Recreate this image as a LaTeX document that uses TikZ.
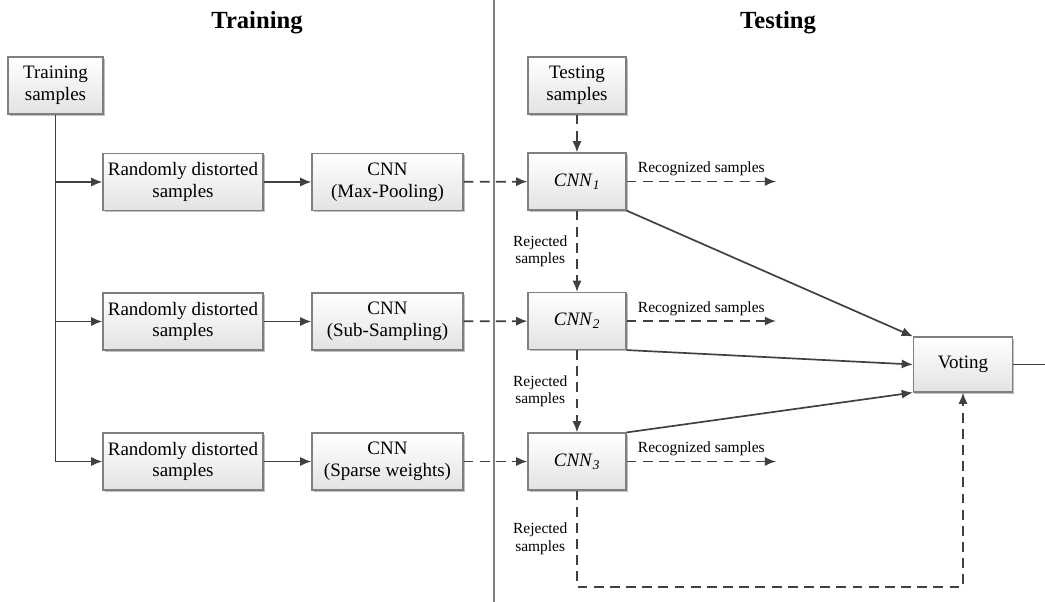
\documentclass[tikz,border=0pt]{standalone}
\usepackage{fontspec}
\setmainfont{Liberation Serif}
\usepackage{xcolor}
\usetikzlibrary{positioning, shadows, arrows.meta}
\definecolor{linegray}{HTML}{404040}
\definecolor{boxgray}{HTML}{7F7F7F}

\begin{document}
\begin{tikzpicture}[x=0.025cm, y=-0.025cm, font=\fontsize{13.5}{15.5}\selectfont]

		% Setup the styles for the boxes and the arrows
		\tikzset{box style/.style={draw=boxgray,
				line width=0.8pt,
				top color=white,
				bottom color=gray!22,
				minimum height=1.425cm,
				inner sep=2pt,
				align=center,
				drop shadow={shadow xshift=1.3pt, shadow yshift=-1.3pt, fill=black, opacity=0.25}},
			flow/.style={draw=linegray, line width=1.2pt, -{Latex[length=8pt, width=6.5pt]}},
			dash flow/.style={flow, dash pattern=on 7pt off 4.5pt},
			small label/.style={font=\fontsize{11}{12.5}\selectfont, align=center}}

		\useasboundingbox (0, 0) rectangle (1045, 602);

		% Draw the titles and the divider
		\node[font=\fontsize{17.5}{20}\selectfont\bfseries] at (257, 23) (traintitle) {Training};
		\node[font=\fontsize{17.5}{20}\selectfont\bfseries] at (778, 23) (testtitle) {Testing};
		\draw[draw=gray, line width=1.2pt] (494, 0) -- (494, 602);

		% Draw the training boxes
		\node[box style, minimum width=2.375cm] at (55.5, 85.5) (trainset) {Training\\samples};
		\node[box style, minimum width=4cm] at (183, 182) (distort1) {Randomly distorted\\samples};
		\node[box style, minimum width=4cm] at (183, 321.5) (distort2) {Randomly distorted\\samples};
		\node[box style, minimum width=4cm] at (183, 461.5) (distort3) {Randomly distorted\\samples};
		\node[box style, minimum width=3.775cm] at (387.5, 182) (cnn1) {CNN\\(Max-Pooling)};
		\node[box style, minimum width=3.775cm] at (387.5, 321.5) (cnn2) {CNN\\(Sub-Sampling)};
		\node[box style, minimum width=3.775cm] at (387.5, 461.5) (cnn3) {CNN\\(Sparse weights)};

		% Draw the testing boxes
		\node[box style, minimum width=2.45cm] at (577, 85.5) (testset) {Testing\\samples};
		\node[box style, minimum width=2.45cm] at (577, 181.5) (test1) {\textit{CNN}\textsubscript{\textit{1}}};
		\node[box style, minimum width=2.45cm] at (577, 321) (test2) {\textit{CNN}\textsubscript{\textit{2}}};
		\node[box style, minimum width=2.45cm] at (577, 461.5) (test3) {\textit{CNN}\textsubscript{\textit{3}}};
		\node[box style, minimum width=2.475cm, minimum height=1.375cm] at (963, 364.5) (voting) {Voting};

		% Free ends of the connectors
		\coordinate (rec1) at (776, 181.5);
		\coordinate (rec2) at (776, 321);
		\coordinate (rec3) at (776, 461.5);
		\coordinate (rejcorner) at (577, 587);
		\coordinate (out) at (1045, 364.5);

		% Connect the training boxes
		\draw[flow] (trainset.south) |- (distort1.west);
		\draw[flow] (trainset.south) |- (distort2.west);
		\draw[flow] (trainset.south) |- (distort3.west);
		\draw[flow] (distort1) -- (cnn1);
		\draw[flow] (distort2) -- (cnn2);
		\draw[flow] (distort3) -- (cnn3);
		\draw[dash flow] (cnn1) -- (test1);
		\draw[dash flow] (cnn2) -- (test2);
		\draw[dash flow] (cnn3) -- (test3);

		% Connect the testing boxes
		\draw[dash flow] (testset) -- (test1);
		\draw[dash flow] (test1.east) -- node[small label, above] {Recognized samples} (rec1);
		\draw[dash flow] (test2.east) -- node[small label, above] {Recognized samples} (rec2);
		\draw[dash flow] (test3.east) -- node[small label, above] {Recognized samples} (rec3);
		\draw[dash flow] (test1) -- node[small label, left, xshift=-3pt] {Rejected\\samples} (test2);
		\draw[dash flow] (test2) -- node[small label, left, xshift=-3pt] {Rejected\\samples} (test3);
		\draw[dash flow] (test3.south) -- node[small label, left, xshift=-3pt] {Rejected\\samples} (rejcorner) -| (voting.south);
		\draw[flow] (test1.south east) -- (voting.north west);
		\draw[flow] (test2.south east) -- (voting.west);
		\draw[flow] (test3.north east) -- (voting.south west);
		\draw[draw=linegray, line width=1.2pt] (voting) -- (out);
\end{tikzpicture}
\end{document}
